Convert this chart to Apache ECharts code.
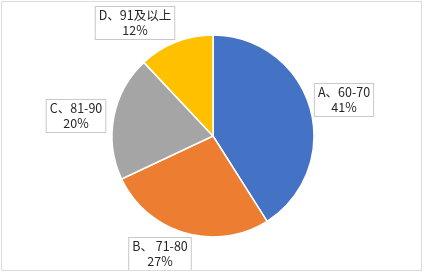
<!DOCTYPE html>
<html>
<head>
<meta charset="utf-8">
<script src="https://cdn.jsdelivr.net/npm/echarts@6/dist/echarts.min.js"></script>
<style>
  html, body { margin: 0; padding: 0; background: #fff; }
  #chart { position: absolute; left: 1px; top: 1px; width: 419px; height: 268px; border: 1px solid #dcdcdc; }
</style>
</head>
<body>
<div id="chart"></div>
<script>
const categories = ['A、60-70', 'B、 71-80', 'C、81-90', 'D、91及以上']
const values = [41, 27, 20, 12]
const colors = ['#4472C4', '#ED7D31', '#A5A5A5', '#FFC000']
// label box centres (chart coords)
const labelSpots = [[342, 98], [158, 252], [74, 114], [133, 21]]

const chart = echarts.init(document.getElementById('chart'))
chart.setOption({
  animation: false,
  series: [{
    type: 'pie',
    center: [211, 134],
    radius: 101,
    startAngle: 90,
    clockwise: true,
    data: categories.map((name, i) => ({
      name,
      value: values[i],
      itemStyle: { color: colors[i] },
    })),
    itemStyle: { borderColor: '#fff', borderWidth: 1.5 },
    label: {
      show: true,
      position: 'inside',
      overflow: 'none',
      formatter: p => p.name + '\n' + Math.round(p.percent) + '%',
      fontFamily: '"Noto Sans CJK SC", "Noto Sans", sans-serif',
      fontSize: 12.5,
      lineHeight: 15,
      color: '#262626',
      align: 'center',
      backgroundColor: '#fff',
      borderColor: '#c8c8c8',
      borderWidth: 1,
      padding: [1, 3],
    },
    labelLine: { show: false },
    labelLayout: p => ({
      x: labelSpots[p.dataIndex][0],
      y: labelSpots[p.dataIndex][1],
      align: 'center',
      verticalAlign: 'middle',
    }),
  }],
})
</script>
</body>
</html>
